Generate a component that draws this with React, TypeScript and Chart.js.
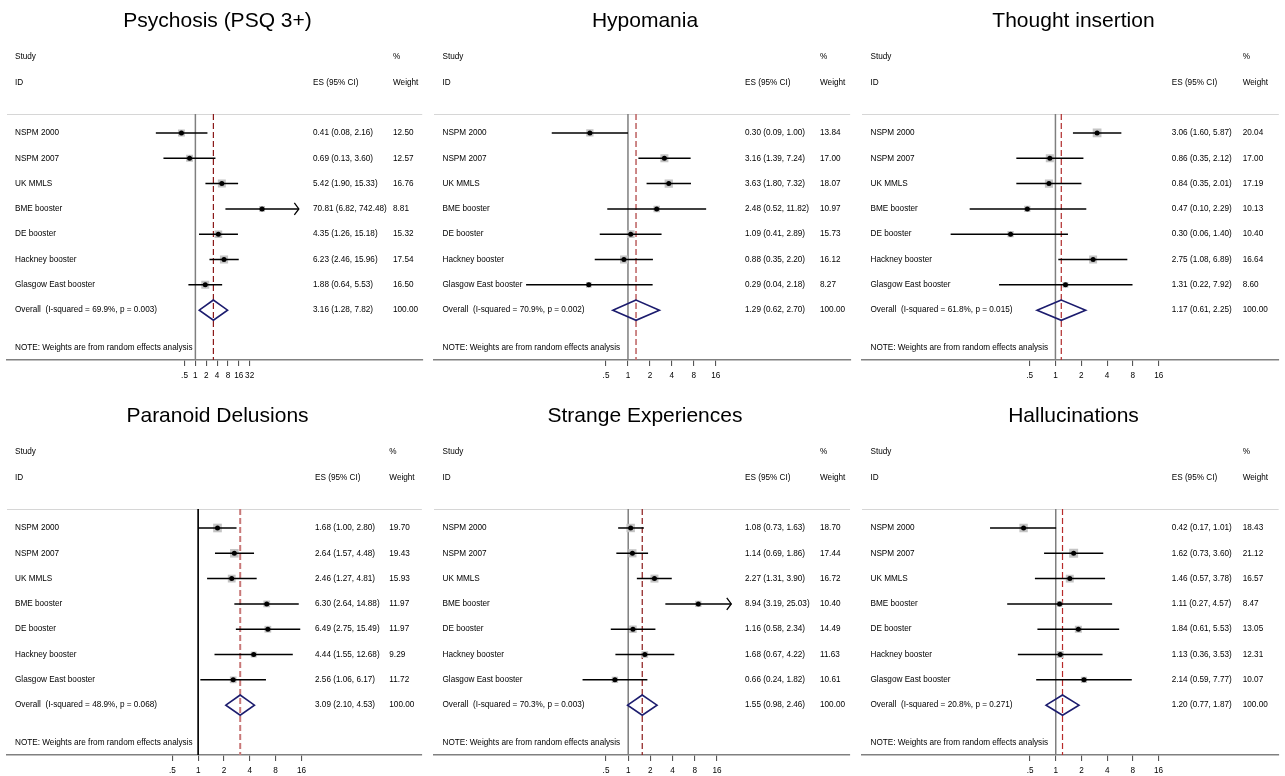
import React, { useEffect, useRef } from "react";
import { Chart, registerables } from "chart.js";

Chart.register(...registerables);

// ---------------- DATA ----------------
const STUDIES = [
  "NSPM 2000",
  "NSPM 2007",
  "UK MMLS",
  "BME booster",
  "DE booster",
  "Hackney booster",
  "Glasgow East booster",
];

const TICKS_WIDE = [0.5, 1, 2, 4, 8, 16, 32];
const TICKS_STD = [0.5, 1, 2, 4, 8, 16];

// Psychosis (PSQ 3+)
const PSY_ES = [0.41, 0.69, 5.42, 70.81, 4.35, 6.23, 1.88];
const PSY_LO = [0.08, 0.13, 1.9, 6.82, 1.26, 2.46, 0.64];
const PSY_HI = [2.16, 3.6, 15.33, 742.48, 15.18, 15.96, 5.53];
const PSY_W = [12.5, 12.57, 16.76, 8.81, 15.32, 17.54, 16.5];
const PSY_OVERALL = [3.16, 1.28, 7.82];
const PSY_HET = [69.9, 0.003];

// Hypomania
const HYP_ES = [0.3, 3.16, 3.63, 2.48, 1.09, 0.88, 0.29];
const HYP_LO = [0.09, 1.39, 1.8, 0.52, 0.41, 0.35, 0.04];
const HYP_HI = [1.0, 7.24, 7.32, 11.82, 2.89, 2.2, 2.18];
const HYP_W = [13.84, 17.0, 18.07, 10.97, 15.73, 16.12, 8.27];
const HYP_OVERALL = [1.29, 0.62, 2.7];
const HYP_HET = [70.9, 0.002];

// Thought insertion
const THO_ES = [3.06, 0.86, 0.84, 0.47, 0.3, 2.75, 1.31];
const THO_LO = [1.6, 0.35, 0.35, 0.1, 0.06, 1.08, 0.22];
const THO_HI = [5.87, 2.12, 2.01, 2.29, 1.4, 6.89, 7.92];
const THO_W = [20.04, 17.0, 17.19, 10.13, 10.4, 16.64, 8.6];
const THO_OVERALL = [1.17, 0.61, 2.25];
const THO_HET = [61.8, 0.015];

// Paranoid Delusions
const PAR_ES = [1.68, 2.64, 2.46, 6.3, 6.49, 4.44, 2.56];
const PAR_LO = [1.0, 1.57, 1.27, 2.64, 2.75, 1.55, 1.06];
const PAR_HI = [2.8, 4.48, 4.81, 14.88, 15.49, 12.68, 6.17];
const PAR_W = [19.7, 19.43, 15.93, 11.97, 11.97, 9.29, 11.72];
const PAR_OVERALL = [3.09, 2.1, 4.53];
const PAR_HET = [48.9, 0.068];

// Strange Experiences
const STR_ES = [1.08, 1.14, 2.27, 8.94, 1.16, 1.68, 0.66];
const STR_LO = [0.73, 0.69, 1.31, 3.19, 0.58, 0.67, 0.24];
const STR_HI = [1.63, 1.86, 3.9, 25.03, 2.34, 4.22, 1.82];
const STR_W = [18.7, 17.44, 16.72, 10.4, 14.49, 11.63, 10.61];
const STR_OVERALL = [1.55, 0.98, 2.46];
const STR_HET = [70.3, 0.003];

// Hallucinations
const HAL_ES = [0.42, 1.62, 1.46, 1.11, 1.84, 1.13, 2.14];
const HAL_LO = [0.17, 0.73, 0.57, 0.27, 0.61, 0.36, 0.59];
const HAL_HI = [1.01, 3.6, 3.78, 4.57, 5.53, 3.53, 7.77];
const HAL_W = [18.43, 21.12, 16.57, 8.47, 13.05, 12.31, 10.07];
const HAL_OVERALL = [1.2, 0.77, 1.87];
const HAL_HET = [20.8, 0.271];

const PANELS = [
  { title: "Psychosis (PSQ 3+)", es: PSY_ES, lo: PSY_LO, hi: PSY_HI, w: PSY_W, overall: PSY_OVERALL, het: PSY_HET, ticks: TICKS_WIDE },
  { title: "Hypomania", es: HYP_ES, lo: HYP_LO, hi: HYP_HI, w: HYP_W, overall: HYP_OVERALL, het: HYP_HET, ticks: TICKS_STD },
  { title: "Thought insertion", es: THO_ES, lo: THO_LO, hi: THO_HI, w: THO_W, overall: THO_OVERALL, het: THO_HET, ticks: TICKS_STD },
  { title: "Paranoid Delusions", es: PAR_ES, lo: PAR_LO, hi: PAR_HI, w: PAR_W, overall: PAR_OVERALL, het: PAR_HET, ticks: TICKS_STD },
  { title: "Strange Experiences", es: STR_ES, lo: STR_LO, hi: STR_HI, w: STR_W, overall: STR_OVERALL, het: STR_HET, ticks: TICKS_STD },
  { title: "Hallucinations", es: HAL_ES, lo: HAL_LO, hi: HAL_HI, w: HAL_W, overall: HAL_OVERALL, het: HAL_HET, ticks: TICKS_STD },
];

// ---------------- LAYOUT / STYLE ----------------
const FONT = '"Liberation Sans", Arial, Helvetica, sans-serif';
const CANVAS_H = 381;
const PAD_LEFT = 7;
const Y_MIN = -0.75;
const Y_MAX = 8.97;
const ROW_STUDY_HEAD = -3;
const ROW_ID_HEAD = -2;
const ROW_OVERALL = 7;
const ROW_NOTE = 8.5;
const DIAMOND_HALF = 0.4;
const BOX_K = 1.95;

const LAYOUT = [
  { left: 0, top: 0, width: 428, zeroPx: 198, ppd: 11.0, labelX: 15, esX: 313, wX: 393, refColor: "#7f7f7f", refWidth: 1.5, dashColor: "#8b1a1a", dashWidth: 1.2 },
  { left: 427, top: 0, width: 429, zeroPx: 203.7, ppd: 22.25, labelX: 15.5, esX: 318, wX: 393, refColor: "#7f7f7f", refWidth: 1.5, dashColor: "#c06a6a", dashWidth: 1.6 },
  { left: 855, top: 0, width: 430, zeroPx: 203.3, ppd: 26.2, labelX: 15.5, esX: 316.7, wX: 387.7, refColor: "#7f7f7f", refWidth: 1.5, dashColor: "#b02a2a", dashWidth: 1.2 },
  { left: 0, top: 395, width: 428, zeroPx: 201, ppd: 26.2, labelX: 15, esX: 315, wX: 389.3, refColor: "#000000", refWidth: 1, dashColor: "#c87878", dashWidth: 2 },
  { left: 427, top: 395, width: 429, zeroPx: 204, ppd: 22.5, labelX: 15.5, esX: 318, wX: 393, refColor: "#7f7f7f", refWidth: 1.5, dashColor: "#8b1a1a", dashWidth: 1.2 },
  { left: 855, top: 395, width: 430, zeroPx: 203.7, ppd: 26.1, labelX: 15.5, esX: 316.7, wX: 387.7, refColor: "#7f7f7f", refWidth: 1.5, dashColor: "#b82a2a", dashWidth: 1.2 },
];

const f2 = (v: number) => v.toFixed(2);
const tickLabel = (v: number) => (v < 1 ? String(v).replace(/^0/, "") : String(v));

const forestPlugin = {
  id: "forestText",
  beforeDatasetsDraw(chart: any) {
    const idx = chart.options.plugins.forestText.panel;
    const P = PANELS[idx];
    const L = LAYOUT[idx];
    const { ctx, chartArea } = chart;
    const y = chart.scales.y;
    ctx.save();
    ctx.strokeStyle = "#d6d6d6";
    ctx.lineWidth = 1;
    ctx.beginPath();
    ctx.moveTo(chartArea.left, Math.round(chartArea.top) + 0.5);
    ctx.lineTo(chartArea.right, Math.round(chartArea.top) + 0.5);
    ctx.stroke();

    ctx.font = `8.2px ${FONT}`;
    ctx.fillStyle = "#000";
    ctx.textBaseline = "middle";
    ctx.textAlign = "left";
    ctx.fillText("Study", L.labelX, y.getPixelForValue(ROW_STUDY_HEAD));
    ctx.fillText("%", L.wX, y.getPixelForValue(ROW_STUDY_HEAD));
    ctx.fillText("ID", L.labelX, y.getPixelForValue(ROW_ID_HEAD));
    ctx.fillText("ES (95% CI)", L.esX, y.getPixelForValue(ROW_ID_HEAD));
    ctx.fillText("Weight", L.wX, y.getPixelForValue(ROW_ID_HEAD));

    STUDIES.forEach((s, i) => {
      const py = y.getPixelForValue(i);
      ctx.fillText(s, L.labelX, py);
      ctx.fillText(`${f2(P.es[i])} (${f2(P.lo[i])}, ${f2(P.hi[i])})`, L.esX, py);
      ctx.fillText(f2(P.w[i]), L.wX, py);
    });
    const po = y.getPixelForValue(ROW_OVERALL);
    ctx.fillText(`Overall  (I-squared = ${P.het[0].toFixed(1)}%, p = ${P.het[1].toFixed(3)})`, L.labelX, po);
    ctx.fillText(`${f2(P.overall[0])} (${f2(P.overall[1])}, ${f2(P.overall[2])})`, L.esX, po);
    ctx.fillText("100.00", L.wX, po);
    ctx.fillText("NOTE: Weights are from random effects analysis", L.labelX, y.getPixelForValue(ROW_NOTE));
    ctx.restore();
  },
  afterDatasetsDraw(chart: any) {
    const idx = chart.options.plugins.forestText.panel;
    const P = PANELS[idx];
    const { ctx } = chart;
    const x = chart.scales.x;
    const y = chart.scales.y;
    const maxTick = P.ticks[P.ticks.length - 1];
    ctx.save();
    ctx.strokeStyle = "#000";
    ctx.lineWidth = 1.3;
    P.hi.forEach((h: number, i: number) => {
      if (h > maxTick) {
        const px = x.getPixelForValue(h);
        const py = y.getPixelForValue(i);
        ctx.beginPath();
        ctx.moveTo(px - 4.5, py - 6);
        ctx.lineTo(px, py);
        ctx.lineTo(px - 4.5, py + 6);
        ctx.stroke();
      }
    });
    ctx.restore();
  },
};

function buildConfig(idx: number): any {
  const P = PANELS[idx];
  const L = LAYOUT[idx];
  const xMin = Math.pow(2, (PAD_LEFT - L.zeroPx) / L.ppd);
  const xMax = Math.pow(2, (L.width - L.zeroPx) / L.ppd);
  const [oEs, oLo, oHi] = P.overall;

  const ciSets = P.es.map((_: number, i: number) => ({
    data: [
      { x: P.lo[i], y: i },
      { x: P.hi[i], y: i },
    ],
    showLine: true,
    borderColor: "#000",
    borderWidth: 1.5,
    pointRadius: 0,
  }));

  const datasets = [
    {
      data: P.es.map((v: number, i: number) => ({ x: v, y: i })),
      pointRadius: 2.5,
      pointBackgroundColor: "#000",
      pointBorderWidth: 0,
      showLine: false,
    },
    ...ciSets,
    {
      data: P.es.map((v: number, i: number) => ({ x: v, y: i })),
      pointStyle: "rect",
      pointRadius: P.w.map((w: number) => (BOX_K * Math.sqrt(w)) / Math.SQRT2),
      pointBackgroundColor: "#c4c4c4",
      pointBorderWidth: 0,
      showLine: false,
    },
    {
      data: [
        { x: oLo, y: ROW_OVERALL },
        { x: oEs, y: ROW_OVERALL - DIAMOND_HALF },
        { x: oHi, y: ROW_OVERALL },
        { x: oEs, y: ROW_OVERALL + DIAMOND_HALF },
        { x: oLo, y: ROW_OVERALL },
        { x: oEs, y: ROW_OVERALL - DIAMOND_HALF },
      ],
      showLine: true,
      borderColor: "#1c1c6e",
      borderWidth: 1.6,
      pointRadius: 0,
      tension: 0,
    },
    {
      data: [
        { x: oEs, y: Y_MIN },
        { x: oEs, y: Y_MAX },
      ],
      showLine: true,
      borderColor: L.dashColor,
      borderWidth: L.dashWidth,
      borderDash: [6, 3],
      pointRadius: 0,
    },
    {
      data: [
        { x: 1, y: Y_MIN },
        { x: 1, y: Y_MAX },
      ],
      showLine: true,
      borderColor: L.refColor,
      borderWidth: L.refWidth,
      pointRadius: 0,
    },
  ];

  return {
    type: "scatter",
    data: { datasets },
    plugins: [forestPlugin],
    options: {
      responsive: false,
      animation: false,
      events: [],
      layout: { padding: { left: PAD_LEFT, right: 0, top: 0, bottom: 0 } },
      plugins: {
        legend: { display: false },
        tooltip: { enabled: false },
        forestText: { panel: idx },
        title: {
          display: true,
          text: P.title,
          color: "#000",
          font: { family: FONT, size: 21, weight: "normal" },
          padding: { top: 9, bottom: 79.8 },
        },
      },
      scales: {
        x: {
          type: "logarithmic",
          bounds: "data",
          min: xMin,
          max: xMax,
          afterBuildTicks: (scale: any) => {
            scale.ticks = P.ticks.map((v: number) => ({ value: v }));
          },
          afterFit: (scale: any) => {
            scale.height = 21;
          },
          border: { display: true, color: "#808080", width: 1.6 },
          grid: {
            display: true,
            drawOnChartArea: false,
            drawTicks: true,
            tickLength: 6,
            color: "#555",
            lineWidth: 1.1,
          },
          ticks: {
            autoSkip: false,
            maxRotation: 0,
            padding: 4.5,
            color: "#000",
            font: { family: FONT, size: 8.2 },
            callback: (v: any) => tickLabel(Number(v)),
          },
        },
        y: {
          type: "linear",
          display: false,
          reverse: true,
          min: Y_MIN,
          max: Y_MAX,
        },
      },
    },
  };
}

function Panel({ idx }: { idx: number }) {
  const ref = useRef<HTMLCanvasElement>(null);
  useEffect(() => {
    if (!ref.current) return;
    const chart = new Chart(ref.current, buildConfig(idx));
    return () => chart.destroy();
  }, [idx]);
  const L = LAYOUT[idx];
  return (
    <div style={{ position: "absolute", left: L.left, top: L.top, width: L.width, height: CANVAS_H }}>
      <canvas ref={ref} width={L.width} height={CANVAS_H} style={{ width: L.width, height: CANVAS_H, display: "block" }} />
    </div>
  );
}

export default function App() {
  return (
    <div
      style={{
        position: "fixed",
        left: 0,
        top: 0,
        width: 1285,
        height: 776,
        background: "#fff",
        overflow: "hidden",
      }}
    >
      {PANELS.map((_, i) => (
        <Panel key={i} idx={i} />
      ))}
    </div>
  );
}
